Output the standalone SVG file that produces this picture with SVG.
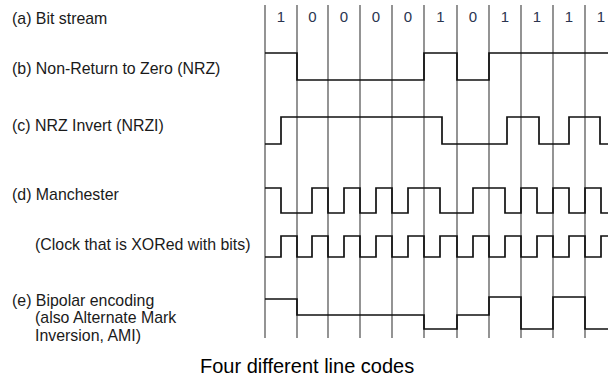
<svg xmlns="http://www.w3.org/2000/svg" width="608" height="379" viewBox="0 0 608 379">
<style>
.lbl{font-family:"Liberation Sans",Arial,sans-serif;font-size:15.9px;fill:#1a1a1a}
.bit{font-family:"Liberation Sans",Arial,sans-serif;font-size:15px;fill:#2b3550;text-anchor:middle}
.cap{font-family:"Liberation Sans",Arial,sans-serif;font-size:20px;fill:#000}
.grid line{stroke:#666;stroke-width:1.4}
.wave{fill:none;stroke:#111;stroke-width:1.7;stroke-linejoin:miter}
</style>
<rect width="608" height="379" fill="#fff"/>
<g id="labels">
<text class="lbl" x="12" y="24">(a) Bit stream</text>
<text class="lbl" x="12" y="74">(b) Non-Return to Zero (NRZ)</text>
<text class="lbl" x="12" y="131">(c) NRZ Invert (NRZI)</text>
<text class="lbl" x="12" y="200">(d) Manchester</text>
<text class="lbl" x="35" y="250">(Clock that is XORed with bits)</text>
<text class="lbl" x="12" y="306">(e) Bipolar encoding</text>
<text class="lbl" x="35" y="323">(also Alternate Mark</text>
<text class="lbl" x="35" y="341">Inversion, AMI)</text>
</g>
<g id="grid" class="grid">
<line x1="265" y1="5" x2="265" y2="338"/>
<line x1="297" y1="5" x2="297" y2="338"/>
<line x1="328" y1="5" x2="328" y2="338"/>
<line x1="360" y1="5" x2="360" y2="338"/>
<line x1="392" y1="5" x2="392" y2="338"/>
<line x1="424" y1="5" x2="424" y2="338"/>
<line x1="457" y1="5" x2="457" y2="338"/>
<line x1="489" y1="5" x2="489" y2="338"/>
<line x1="521" y1="5" x2="521" y2="338"/>
<line x1="553" y1="5" x2="553" y2="338"/>
<line x1="585" y1="5" x2="585" y2="338"/>
</g>
<g id="bits">
<text class="bit" x="281" y="22">1</text>
<text class="bit" x="312.5" y="22">0</text>
<text class="bit" x="344" y="22">0</text>
<text class="bit" x="376" y="22">0</text>
<text class="bit" x="408" y="22">0</text>
<text class="bit" x="440.5" y="22">1</text>
<text class="bit" x="473" y="22">0</text>
<text class="bit" x="505" y="22">1</text>
<text class="bit" x="537" y="22">1</text>
<text class="bit" x="569" y="22">1</text>
<text class="bit" x="601" y="22">1</text>
</g>
<g id="nrz"><path class="wave" d="M265,53 H297 V80 H424 V53 H457 V80 H489 V53 H608"/></g>
<g id="nrzi"><path class="wave" d="M265,144 H281 V117 H442 V144 H507 V117 H539 V144 H569 V117 H600 V144 H608"/></g>
<g id="manchester"><path class="wave" d="M265,188 H281 V213 H312 V188 H328 V213 H344 V188 H360 V213 H376 V188 H392 V213 H408 V188 H440 V213 H473 V188 H505 V213 H521 V188 H537 V213 H553 V188 H569 V213 H585 V188 H601 V213 H608"/></g>
<g id="clock"><path class="wave" d="M265,257 H281 V236 H297 V257 H312 V236 H328 V257 H344 V236 H360 V257 H376 V236 H392 V257 H408 V236 H424 V257 H440 V236 H457 V257 H473 V236 H489 V257 H505 V236 H521 V257 H537 V236 H553 V257 H569 V236 H585 V257 H601 V236 H608"/></g>
<g id="bipolar"><path class="wave" d="M265,299 H297 V315 H424 V329 H457 V315 H489 V297 H521 V329 H553 V297 H585 V329 H608"/></g>
<g id="caption"><text class="cap" x="200" y="373">Four different line codes</text></g>
</svg>
